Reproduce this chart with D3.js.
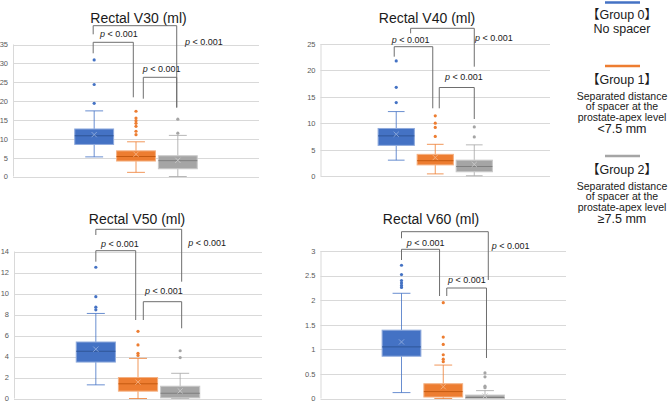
<!DOCTYPE html>
<html><head><meta charset="utf-8">
<script src="https://cdn.jsdelivr.net/npm/d3@7"></script>
<style>
body{margin:0;background:#fff;}
svg{display:block;font-family:"Liberation Sans",Arial,"Noto Sans CJK JP",sans-serif;}
</style>
</head><body>
<svg id="chart" width="668" height="402"></svg>
<script>
// ---------- DATA ----------
const groups = ["Group 0", "Group 1", "Group 2"];
// each box: [lower whisker, Q1, median, Q3, upper whisker]
const v30Box = [[5.2, 8.5, 10.8, 12.6, 17.4], [1.1, 4.1, 5.3, 6.8, 9.2], [0, 2.05, 4.2, 5.5, 10.9]];
const v30Mean = [11.1, 5.9, 4.3];
const v30Out = [[19.4, 24.4, 30.9], [11.1, 12.0, 13.3, 14.1, 14.8, 15.5, 17.3], [11.5, 15.2]];
const v30Ticks = [0, 5, 10, 15, 20, 25, 30, 35];

const v40Box = [[3.0, 5.8, 7.6, 9.0, 12.2], [0.4, 2.1, 2.9, 4.1, 6.0], [0.05, 0.8, 1.8, 3.0, 5.9]];
const v40Mean = [7.9, 3.5, 2.2];
const v40Out = [[13.9, 16.8, 21.8], [7.5, 9.2, 10.0, 11.4], [7.4, 9.3]];
const v40Ticks = [0, 5, 10, 15, 20, 25];

const v50Box = [[1.3, 3.47, 4.5, 5.38, 8.1], [0, 0.7, 1.4, 2.0, 3.82], [0, 0.06, 0.5, 1.17, 2.4]];
const v50Mean = [4.7, 1.56, 0.73];
const v50Out = [[8.45, 8.7, 9.7, 12.5], [4.1, 4.3, 5.1, 6.4], [3.9, 4.55]];
const v50Ticks = [0, 2, 4, 6, 8, 10, 12, 14];

const v60Box = [[0.12, 0.86, 1.05, 1.39, 2.14], [0, 0.03, 0.14, 0.3, 0.68], [0, 0, 0.02, 0.07, 0.16]];
const v60Mean = [1.15, 0.24, 0.05];
const v60Out = [[2.26, 2.3, 2.35, 2.4, 2.52, 2.71], [0.75, 0.8, 0.89, 1.1, 1.25, 1.95], [0.22, 0.25, 0.44, 0.52]];
const v60Ticks = [0, 0.5, 1, 1.5, 2, 2.5, 3];

const titles = ["Rectal V30 (ml)", "Rectal V40 (ml)", "Rectal V50 (ml)", "Rectal V60 (ml)"];
const pText = " < 0.001";
const legendNames = ["【Group 0】", "【Group 1】", "【Group 2】"];
const legendDesc = [
  ["No spacer"],
  ["Separated distance", "of spacer at the", "prostate-apex level", "<7.5 mm"],
  ["Separated distance", "of spacer at the", "prostate-apex level", "≥7.5 mm"]
];

// ---------- STYLE / LAYOUT ----------
const colors = ["#4472C4", "#ED7D31", "#A5A5A5"];
const light = ["#8FAADC", "#F4B183", "#C9C9C9"];
const dark = ["#2F5597", "#C55A11", "#7F7F7F"];

const panels = [
  {box: v30Box, mean: v30Mean, out: v30Out, ticks: v30Ticks, x0: 13, x1: 259, yT: 44.5, yB: 176.5, tx: 138.5, ty: 23,
   br: [
     {a: 0, da: -1, b: 1, db: -2.7, top: 42.3, lb: 53.3, rb: 97.3, lx: 100, ly: 34.3},
     {a: 1, da: 7.3, b: 2, db: -1.1, top: 77.3, lb: 98.7, rb: 107.3, lx: 142.7, ly: 69},
     {a: 0, da: -1, b: 2, db: -1.1, top: 25.7, lb: 34.3, rb: 107.7, lx: 185, ly: 42.3}]},
  {box: v40Box, mean: v40Mean, out: v40Out, ticks: v40Ticks, x0: 320.5, x1: 550, yT: 44, yB: 176, tx: 427, ty: 23,
   br: [
     {a: 0, da: -2, b: 1, db: -2.5, top: 46.7, lb: 56.7, rb: 108.3, lx: 391.7, ly: 40},
     {a: 1, da: 4, b: 2, db: 0, top: 87.5, lb: 108.3, rb: 119, lx: 445, ly: 77},
     {a: 0, da: 14.4, b: 2, db: 0, top: 28.3, lb: 33.3, rb: 66.7, lx: 475, ly: 38.3}]},
  {box: v50Box, mean: v50Mean, out: v50Out, ticks: v50Ticks, x0: 14, x1: 262, yT: 251.5, yB: 398.5, tx: 137, ty: 224,
   br: [
     {a: 0, da: 0, b: 1, db: -2.3, top: 250.7, lb: 261.7, rb: 320, lx: 101, ly: 244.3},
     {a: 1, da: 5.3, b: 2, db: 1.5, top: 301.7, lb: 320, rb: 328.3, lx: 145, ly: 290.7},
     {a: 0, da: 0, b: 2, db: 1.5, top: 229.3, lb: 235, rb: 281.7, lx: 188.3, ly: 242.7}]},
  {box: v60Box, mean: v60Mean, out: v60Out, ticks: v60Ticks, x0: 320.5, x1: 566, yT: 251, yB: 398.5, tx: 431, ty: 224,
   br: [
     {a: 0, da: 0, b: 1, db: -3.7, top: 249.3, lb: 260, rb: 296, lx: 406.7, ly: 243.3},
     {a: 1, da: 3.5, b: 2, db: 1.5, top: 288, lb: 296, rb: 358, lx: 448, ly: 280},
     {a: 0, da: 0, b: 2, db: 3.3, top: 231.7, lb: 238.3, rb: 280, lx: 491.7, ly: 246}]}
];

const svg = d3.select("#chart");

panels.forEach((p, pi) => {
  const g = svg.append("g");
  const maxV = p.ticks[p.ticks.length - 1];
  const y = d3.scaleLinear().domain([0, maxV]).range([p.yB, p.yT]);
  const w = p.x1 - p.x0, cx = (p.x0 + p.x1) / 2;
  const x = d3.scaleBand().domain(groups).range([cx - 0.249 * w, cx + 0.249 * w]).paddingInner(0.071).paddingOuter(0);
  const bw = x.bandwidth();

  // gridlines
  g.selectAll("line.grid").data(p.ticks).join("line")
    .attr("x1", p.x0).attr("x2", p.x1)
    .attr("y1", d => Math.round(y(d)) + 0.5).attr("y2", d => Math.round(y(d)) + 0.5)
    .attr("stroke", "#D9D9D9").attr("stroke-width", 1);
  // left axis line
  g.append("line").attr("x1", p.x0 + 0.5).attr("x2", p.x0 + 0.5)
    .attr("y1", y(maxV)).attr("y2", y(0)).attr("stroke", "#D9D9D9");

  // y axis labels via d3 axis
  const ax = d3.axisLeft(y).tickValues(p.ticks).tickSize(0).tickPadding(5).tickFormat(d3.format("~g"));
  const axG = g.append("g").attr("transform", `translate(${p.x0},0)`).call(ax);
  axG.select(".domain").remove();
  axG.selectAll("text").attr("fill", "#595959").style("font-size", "7.5px")
    .style("font-family", '"Liberation Sans",Arial,sans-serif');

  // title
  g.append("text").attr("x", p.tx).attr("y", p.ty).attr("text-anchor", "middle")
    .style("font-size", "14px").attr("fill", "#1a1a1a").text(titles[pi]);

  // boxes
  groups.forEach((gr, gi) => {
    const [lo, q1, med, q3, hi] = p.box[gi];
    const left = x(gr), c = left + bw / 2;
    const cap = bw * 0.46;
    const bg = g.append("g");
    // whiskers
    bg.append("line").attr("x1", c).attr("x2", c).attr("y1", y(hi)).attr("y2", y(q3)).attr("stroke", colors[gi]).attr("stroke-opacity", 0.8);
    bg.append("line").attr("x1", c).attr("x2", c).attr("y1", y(q1)).attr("y2", y(lo)).attr("stroke", colors[gi]).attr("stroke-opacity", 0.8);
    bg.append("line").attr("x1", c - cap / 2).attr("x2", c + cap / 2).attr("y1", y(hi)).attr("y2", y(hi)).attr("stroke", colors[gi]).attr("stroke-opacity", 0.8);
    bg.append("line").attr("x1", c - cap / 2).attr("x2", c + cap / 2).attr("y1", y(lo)).attr("y2", y(lo)).attr("stroke", colors[gi]).attr("stroke-opacity", 0.8);
    // box
    bg.append("rect").attr("x", left).attr("width", bw)
      .attr("y", y(q3)).attr("height", Math.max(1, y(q1) - y(q3)))
      .attr("fill", colors[gi]).attr("stroke", light[gi]).attr("stroke-width", 1);
    // median
    bg.append("line").attr("x1", left).attr("x2", left + bw).attr("y1", y(med)).attr("y2", y(med))
      .attr("stroke", dark[gi]).attr("stroke-width", 1);
    // mean marker
    const my = y(p.mean[gi]), s = 2.6;
    bg.append("path").attr("d", `M${c - s},${my - s}L${c + s},${my + s}M${c - s},${my + s}L${c + s},${my - s}`)
      .attr("stroke", light[gi]).attr("stroke-width", 0.9).attr("fill", "none");
    // outliers
    bg.selectAll("circle").data(p.out[gi]).join("circle")
      .attr("cx", c).attr("cy", d => y(d)).attr("r", 1.6).attr("fill", colors[gi]);
  });

  // brackets
  const centre = i => x(groups[i]) + bw / 2;
  p.br.forEach(b => {
    const xa = centre(b.a) + b.da, xb = centre(b.b) + b.db;
    g.append("path").attr("d", `M${xa},${b.lb}V${b.top}H${xb}V${b.rb}`)
      .attr("fill", "none").attr("stroke", "#6E6E6E").attr("stroke-width", 1);
    const t = g.append("text").attr("x", b.lx).attr("y", b.ly).attr("dy", "0.35em")
      .style("font-size", "9px").attr("fill", "#1a1a1a");
    t.append("tspan").style("font-style", "italic").text("p");
    t.append("tspan").text(pText);
  });
});

// legend
const legY = [2.5, 66, 156];
const nameY = [14.5, 79.5, 169.5];
const lx = 622;
legendNames.forEach((n, i) => {
  svg.append("line").attr("x1", lx - 17).attr("x2", lx + 18).attr("y1", legY[i]).attr("y2", legY[i])
    .attr("stroke", colors[i]).attr("stroke-width", 2.5);
  svg.append("text").attr("x", lx).attr("y", nameY[i]).attr("dy", "0.35em").attr("text-anchor", "middle")
    .style("font-size", "12.5px").attr("fill", "#1a1a1a").text(n);
  const desc = legendDesc[i];
  desc.forEach((d, j) => {
    let yy, fs;
    if (desc.length === 1) { yy = nameY[i] + 14; fs = 12.5; }
    else if (j < 3) { yy = nameY[i] + 16.5 + j * 10.7; fs = 10.5; }
    else { yy = nameY[i] + 49.5; fs = 12.5; }
    svg.append("text").attr("x", lx).attr("y", yy).attr("dy", "0.35em").attr("text-anchor", "middle")
      .style("font-size", fs + "px").attr("fill", "#1a1a1a").text(d);
  });
});
</script>
</body></html>
